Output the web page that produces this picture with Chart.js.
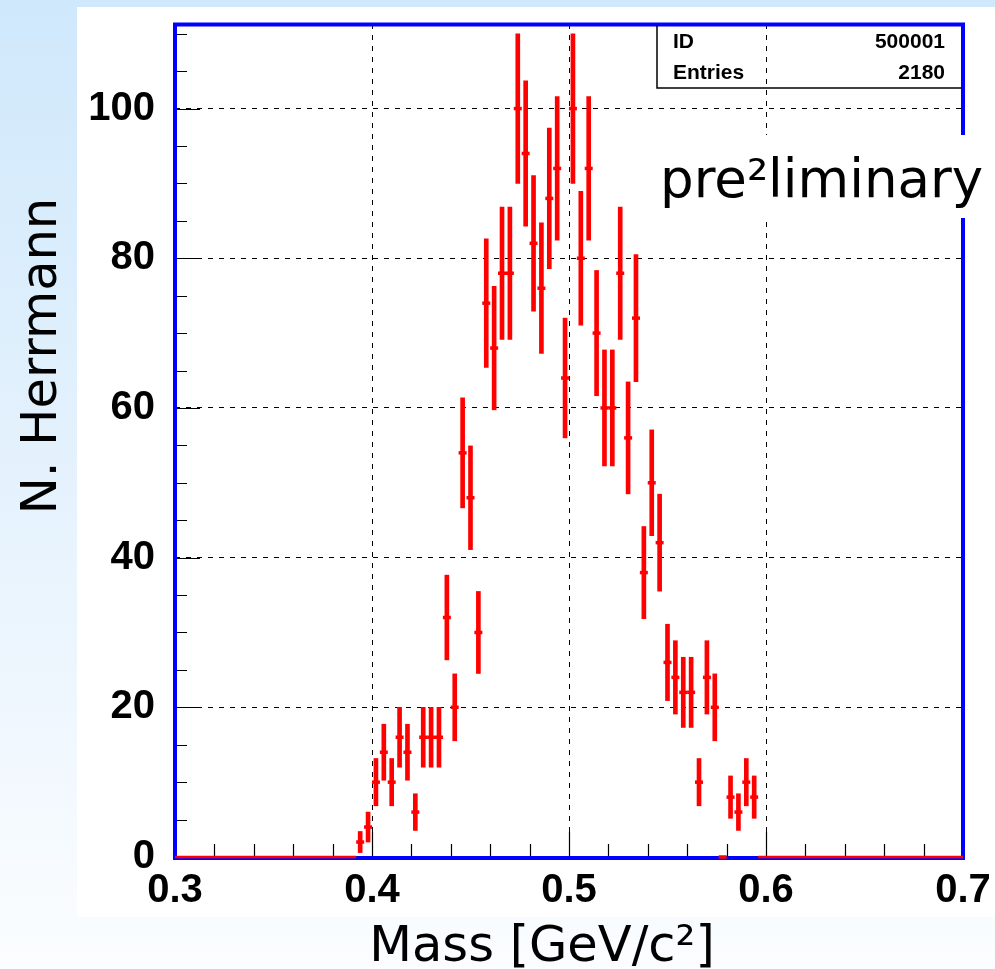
<!DOCTYPE html>
<html>
<head>
<meta charset="utf-8">
<script src="https://cdn.jsdelivr.net/npm/chart.js@4.4.1/dist/chart.umd.min.js"></script>
<style>
html,body{margin:0;padding:0;overflow:hidden;background:#fff}
canvas{display:block}
</style>
</head>
<body>
<canvas id="c" width="995" height="969"></canvas>
<script>
// ---- data ----
const massBins = [0.394,0.398,0.402,0.406,0.410,0.414,0.418,0.422,0.426,0.430,
  0.434,0.438,0.442,0.446,0.450,0.454,0.458,0.462,0.466,0.470,
  0.474,0.478,0.482,0.486,0.490,0.494,0.498,0.502,0.506,0.510,
  0.514,0.518,0.522,0.526,0.530,0.534,0.538,0.542,0.546,0.550,
  0.554,0.558,0.562,0.566,0.570,0.574,0.578,0.582,0.586,0.590,0.594];
const counts = [2,4,10,14,10,16,14,6,16,16,
  16,32,20,54,48,30,74,68,78,78,
  100,94,82,76,88,92,64,100,80,92,
  70,60,60,78,56,72,38,50,42,26,
  24,22,22,10,24,20,0,8,6,10,8];
const countErrors = [1.41,2,3.16,3.74,3.16,4,3.74,2.45,4,4,
  4,5.66,4.47,7.35,6.93,5.48,8.6,8.25,8.83,8.83,
  10,9.7,9.06,8.72,9.38,9.59,8,10,8.94,9.59,
  8.37,7.75,7.75,8.83,7.48,8.49,6.16,7.07,6.48,5.1,
  4.9,4.69,4.69,3.16,4.9,4.47,0,2.83,2.45,3.16,2.83];
const emptyRanges = [[0.300,0.392],[0.596,0.700]];
const xTickValues = [0.3,0.4,0.5,0.6,0.7];
const xTickLabels = ['0.3','0.4','0.5','0.6','0.7'];
const yTickValues = [0,20,40,60,80,100];
const yTickLabels = ['0','20','40','60','80','100'];
const statsNames = ['ID','Entries'];
const statsValues = ['500001','2180'];
const xTitle = 'Mass [GeV/c\u00b2]';
const yTitle = 'N. Herrmann';
const stampText = 'pre\u00b2liminary';

const RED = '#ff0000';
const BLUE = '#0000ff';

const datasets = [
  {
    type: 'line',
    label: 'markers',
    data: massBins.map((m, i) => ({x: m, y: counts[i]})),
    showLine: false,
    pointStyle: 'line',
    pointRadius: 4,
    pointBorderWidth: 3.5,
    pointBorderColor: RED,
    borderColor: RED,
    clip: false
  },
  {
    type: 'bar',
    label: 'errors',
    data: massBins.map((m, i) => ({x: m, y: [counts[i] - countErrors[i], counts[i] + countErrors[i]]})),
    backgroundColor: RED,
    borderWidth: 0,
    borderSkipped: false,
    barThickness: 4,
    clip: false
  }
];
emptyRanges.forEach((r, k) => {
  datasets.push({
    type: 'line',
    label: 'empty' + k,
    data: [{x: r[0], y: 0}, {x: r[1], y: 0}],
    borderColor: RED,
    borderWidth: 2.5,
    pointRadius: 0,
    clip: false
  });
});

const bgPlugin = {
  id: 'bg',
  beforeDraw(chart) {
    const ctx = chart.ctx;
    ctx.save();
    const g = ctx.createLinearGradient(0, 0, 0, chart.height);
    g.addColorStop(0, '#cfe8fb');
    g.addColorStop(0.5, '#e5f2fd');
    g.addColorStop(1, '#fbfdff');
    ctx.fillStyle = g;
    ctx.fillRect(0, 0, chart.width, chart.height);
    ctx.fillStyle = '#ffffff';
    ctx.fillRect(77, 7, chart.width - 77, 910);
    ctx.restore();
  }
};

const framePlugin = {
  id: 'frame',
  beforeDatasetsDraw(chart) {
    const {ctx, scales: {x, y}} = chart;
    const a = chart.chartArea;
    ctx.save();
    // inner tick marks
    ctx.strokeStyle = '#000';
    ctx.lineWidth = 1.2;
    ctx.beginPath();
    for (let i = 1; i <= 22; i++) {
      const v = i * 5;
      const py = Math.round(y.getPixelForValue(v)) + 0.5;
      const len = (i % 4 === 0) ? 25 : 12;
      ctx.moveTo(a.left, py); ctx.lineTo(a.left + len, py);
    }
    for (let i = 1; i < 20; i++) {
      const v = 0.3 + i * 0.02;
      const px = Math.round(x.getPixelForValue(v)) + 0.5;
      const len = (i % 5 === 0) ? 25 : 13;
      ctx.moveTo(px, a.bottom); ctx.lineTo(px, a.bottom - len);
    }
    ctx.stroke();
    // blue frame
    ctx.strokeStyle = BLUE;
    ctx.lineWidth = 4;
    ctx.strokeRect(a.left, 24.5, a.right - a.left, 858 - 24.5);
    ctx.restore();
  }
};

const annoPlugin = {
  id: 'anno',
  afterDraw(chart) {
    const ctx = chart.ctx;
    ctx.save();
    // stats box
    ctx.strokeStyle = '#000';
    ctx.lineWidth = 1.5;
    ctx.beginPath();
    ctx.moveTo(657, 25); ctx.lineTo(657, 88); ctx.lineTo(962, 88);
    ctx.stroke();
    ctx.fillStyle = '#000';
    ctx.font = 'bold 21px "Liberation Sans", Arial, sans-serif';
    ctx.textBaseline = 'alphabetic';
    const rows = [48, 79];
    statsNames.forEach((n, i) => {
      ctx.textAlign = 'left';
      ctx.fillText(n, 673, rows[i]);
      ctx.textAlign = 'right';
      ctx.fillText(statsValues[i], 945, rows[i]);
    });
    // preliminary stamp
    ctx.fillStyle = '#ffffff';
    ctx.fillRect(650, 135, 345, 83);
    ctx.fillStyle = '#000';
    ctx.font = '53px "DejaVu Sans", Verdana, sans-serif';
    ctx.textAlign = 'left';
    ctx.fillText(stampText, 660, 197);
    // axis titles
    ctx.font = '49.5px "DejaVu Sans", Verdana, sans-serif';
    ctx.textAlign = 'center';
    ctx.fillText(xTitle, 542, 961);
    ctx.translate(56, 356);
    ctx.rotate(-Math.PI / 2);
    ctx.fillText(yTitle, 0, 0);
    ctx.restore();
  }
};

const tickFont = {family: '"Liberation Sans", Arial, sans-serif', weight: 'bold', size: 40, lineHeight: 1.2};

new Chart(document.getElementById('c'), {
  type: 'bar',
  data: {datasets},
  options: {
    responsive: false,
    devicePixelRatio: 1,
    animation: false,
    events: [],
    layout: {padding: {top: 24, right: 32, left: 0, bottom: 0}, autoPadding: false},
    plugins: {legend: {display: false}, tooltip: {enabled: false}},
    scales: {
      x: {
        type: 'linear',
        min: 0.3,
        max: 0.7,
        offset: false,
        afterBuildTicks: s => { s.ticks = xTickValues.map(v => ({value: v})); },
        afterFit: s => { s.height = 112; s.paddingLeft = 0; s.paddingRight = 0; },
        ticks: {
          callback: (v, i) => xTickLabels[i],
          font: tickFont,
          color: '#000',
          padding: 10,
          maxRotation: 0,
          autoSkip: false
        },
        grid: {offset: false, drawTicks: false, color: '#000', lineWidth: 1},
        border: {display: false, dash: [5, 6]}
      },
      y: {
        type: 'linear',
        min: 0,
        max: 111.3,
        afterBuildTicks: s => { s.ticks = yTickValues.map(v => ({value: v})); },
        afterFit: s => { s.width = 175; s.paddingTop = 0; s.paddingBottom = 0; },
        ticks: {
          callback: (v, i) => yTickLabels[i],
          font: tickFont,
          color: '#000',
          padding: 20
        },
        grid: {drawTicks: false, color: '#000', lineWidth: 1},
        border: {display: false, dash: [5, 6]}
      }
    }
  },
  plugins: [bgPlugin, framePlugin, annoPlugin]
});
</script>
</body>
</html>
